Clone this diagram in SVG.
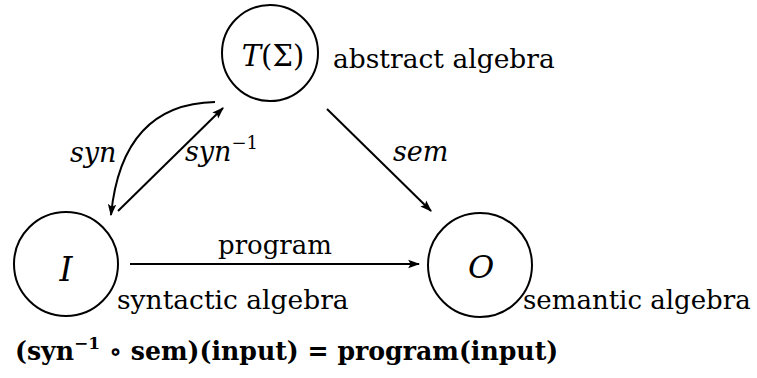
<svg xmlns="http://www.w3.org/2000/svg" width="757" height="378" viewBox="0 0 757 378">
<style>
.node{fill:none;stroke:#000;stroke-width:2}
.edge{fill:none;stroke:#000;stroke-width:2}
text{font-family:'DejaVu Serif','Liberation Serif',serif;font-size:26.5px;fill:#000}
.i{font-style:italic}
.b{font-weight:bold}
.lab{font-size:27px}
</style>
<defs>
<marker id="ah" viewBox="0 0 10 10" refX="9" refY="5" markerWidth="6" markerHeight="6" markerUnits="strokeWidth" orient="auto">
<path d="M0,1.5 L10,5 L0,8.5 L2,5 Z" fill="#000"/>
</marker>
</defs>
<rect width="757" height="378" fill="#fff"/>
<g id="connectors">
<path id="e-syn" class="edge" d="M215,102 Q122,104 111,215" marker-end="url(#ah)"/>
<path id="e-syninv" class="edge" d="M118,211 L223,108" marker-end="url(#ah)"/>
<path id="e-sem" class="edge" d="M327,109 L431,211" marker-end="url(#ah)"/>
<path id="e-program" class="edge" d="M130,264 L419,264" marker-end="url(#ah)"/>
<text class="i lab" x="70" y="162">syn</text>
<text class="i lab" x="185" y="161">syn<tspan font-style="normal" font-size="18" baseline-shift="12">−1</tspan></text>
<text class="i lab" x="393" y="161">sem</text>
<text x="218" y="254" style="font-size:26px">program</text>
</g>
<g id="node-T">
<circle class="node" cx="270" cy="53" r="48"/>
<text x="273" y="66" style="font-size:29px" text-anchor="middle"><tspan font-style="italic">T</tspan>(Σ)</text>
<text x="333" y="68">abstract algebra</text>
</g>
<g id="node-I">
<circle class="node" cx="66" cy="264" r="52"/>
<text class="i" x="66" y="281" text-anchor="middle" style="font-size:33px">I</text>
<text x="117" y="309">syntactic algebra</text>
</g>
<g id="node-O">
<circle class="node" cx="480" cy="265" r="52"/>
<text class="i" x="481" y="278" text-anchor="middle" style="font-size:32px">O</text>
<text x="523" y="309" style="font-size:26px">semantic algebra</text>
</g>
<text class="b" x="15" y="360" style="font-size:25.2px">(syn<tspan font-size="17" baseline-shift="11">−1</tspan> ∘ sem)(input) = program(input)</text>
</svg>
